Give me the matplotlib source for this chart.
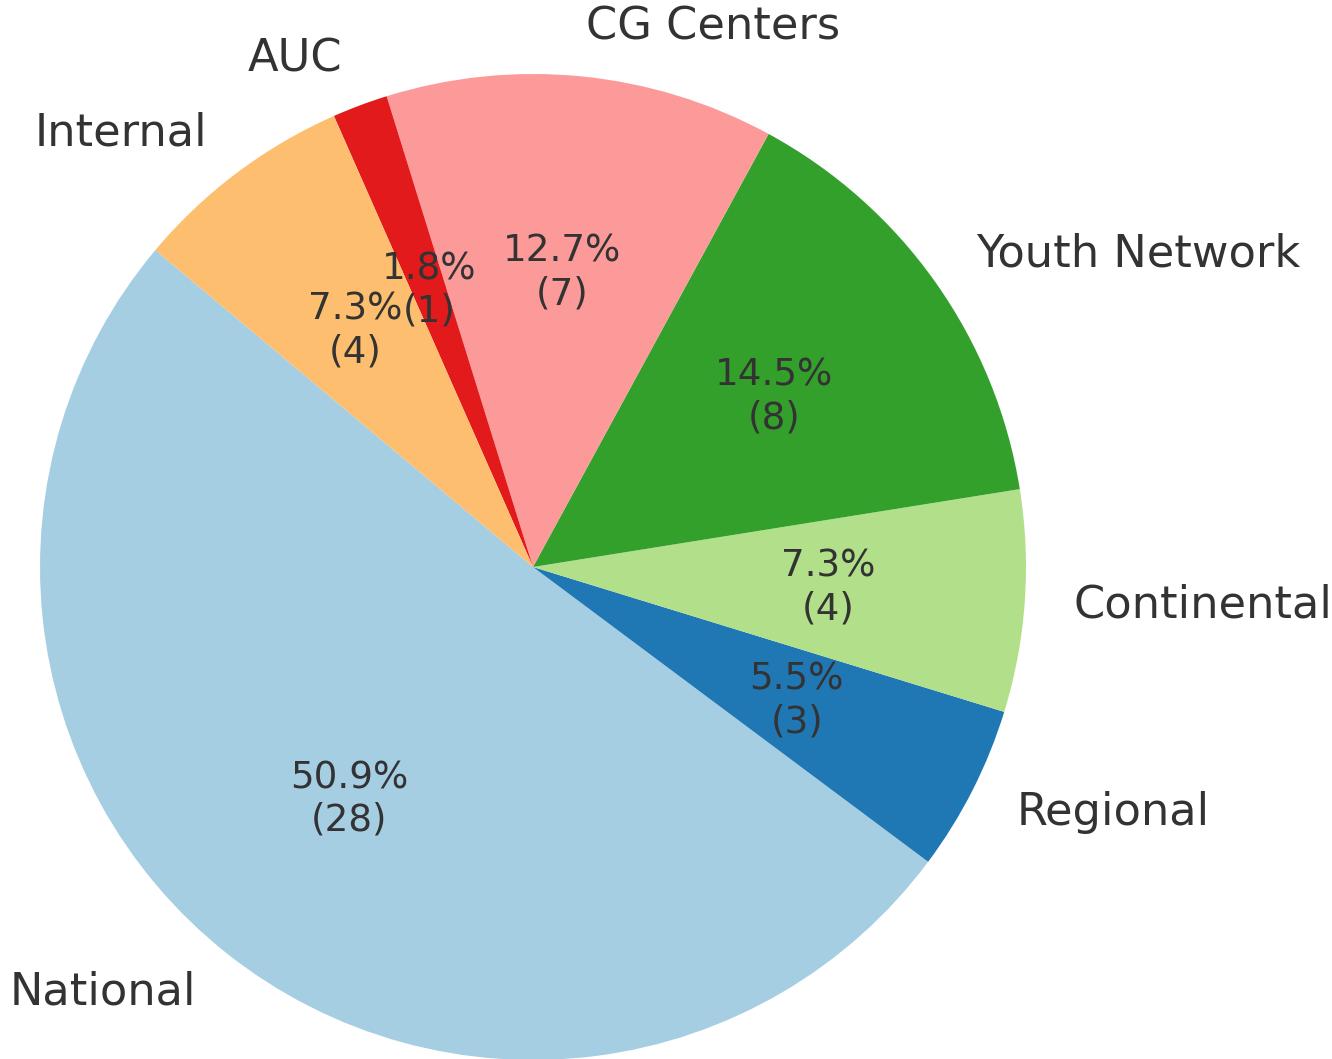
import numpy as np
import matplotlib as mpl, matplotlib.pyplot as plt

## data
labels = ['National', 'Regional', 'Continental', 'Youth Network', 'CG Centers', 'AUC', 'Internal']
counts = [28, 3, 4, 8, 7, 1, 4]
total = sum(counts)

## colors
colors = [mpl.cm.Paired(i) for i in range(len(labels))]

def fmt(pct):
    n = int(round(pct * total / 100.))
    return f"{pct:.1f}%\n({n})"

## figure
fig = plt.figure(figsize=(13.32, 10.59), dpi=100)
r_px, cx, cy = 493, 533, 567
ax = fig.add_axes([(cx - r_px) / 1332, (1059 - cy - r_px) / 1059, 2 * r_px / 1332, 2 * r_px / 1059])

wedges, texts, autotexts = ax.pie(counts, labels=labels, colors=colors, startangle=140,
                                  autopct=fmt, pctdistance=0.6, labeldistance=1.1,
                                  textprops={'color': '#333333'})
for t in texts:
    t.set_fontsize(32.2)
for t in autotexts:
    t.set_fontsize(26.8)

ax.set_xlim(-1, 1)
ax.set_ylim(-1, 1)
ax.set_aspect('equal')
ax.axis('off')

plt.savefig('out.png', dpi=100)
plt.close(fig)
